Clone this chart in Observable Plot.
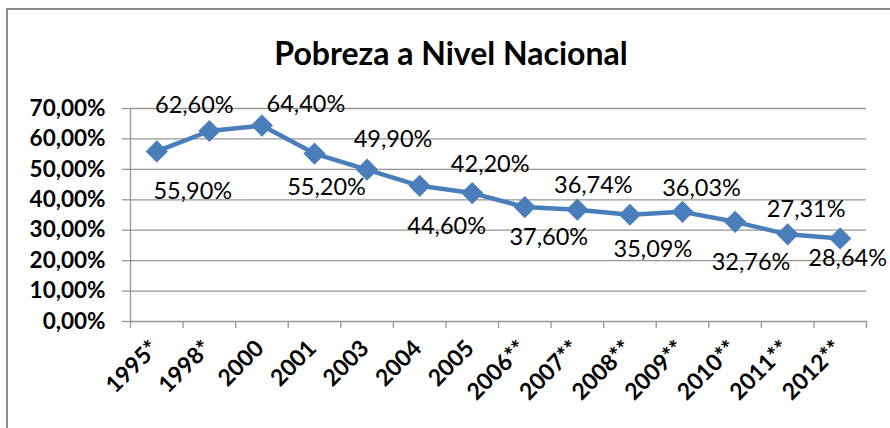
<!DOCTYPE html>
<html><head><meta charset="utf-8">
<script src="https://cdn.jsdelivr.net/npm/d3@7"></script>
<script src="https://cdn.jsdelivr.net/npm/@observablehq/plot@0.6"></script>
<style>
body{margin:0;background:#fff;}
#wrap{position:relative;width:890px;height:428px;overflow:hidden;}
#frame{position:absolute;left:6px;top:8px;width:900px;height:440px;border-top:2px solid #8c8c8c;border-left:2px solid #8c8c8c;}
#chart{position:absolute;left:0;top:0;}
</style></head><body>
<div id="wrap"><div id="frame"></div><div id="chart"></div></div>
<script>
const title = "Pobreza a Nivel Nacional";
const categories = ["1995*","1998*","2000","2001","2003","2004","2005","2006**","2007**","2008**","2009**","2010**","2011**","2012**"];
const values = [55.90, 62.60, 64.40, 55.20, 49.90, 44.60, 42.20, 37.60, 36.74, 35.09, 36.03, 32.76, 28.64, 27.31];
const yTicks = [0, 10, 20, 30, 40, 50, 60, 70];
// manual label nudges (dx, dy in px) as in the original
const labelNudge = [[36,40],[-15,-26],[44,-21],[12,34],[26,-30],[27,41],[18,-29],[24,30],[16,-24],[23,35],[19,-23],[16,41],[60,24],[-34,-29]];

const fmt = v => v.toFixed(2).replace(".", ",") + "%";
const blue = "#4a7ebb";
const gray = "#969696";
const font = "Lato";
const xi = (d, i) => i + 0.5;

const labelMarks = values.map((v, i) => Plot.text([v], {
  x: () => i + 0.5, y: d => d, text: d => fmt(d),
  dx: labelNudge[i][0], dy: labelNudge[i][1],
  lineAnchor: "middle", textAnchor: "middle",
  fontSize: 23.5, fill: "#000"
}));

const chart = Plot.plot({
  width: 890, height: 428,
  marginLeft: 130, marginRight: 24, marginTop: 108, marginBottom: 107,
  x: {domain: [0, categories.length], axis: null},
  y: {domain: [0, 70], axis: null},
  style: {fontFamily: font, background: "transparent", overflow: "visible"},
  marks: [
    Plot.gridY(yTicks, {stroke: gray, strokeOpacity: 1, strokeWidth: 1.3}),
    Plot.ruleX([0], {stroke: gray, strokeWidth: 1.3}),
    Plot.axisY(yTicks, {tickSize: 8, tickPadding: 17, tickFormat: fmt, fontSize: 22.5, fontWeight: "bold", stroke: gray, fill: "#000", strokeWidth: 1.3}),
    Plot.axisX(d3.range(categories.length + 1), {tickSize: 7, tickFormat: () => "", stroke: gray, strokeWidth: 1.3}),
    Plot.text(categories, {x: xi, y: () => 0, text: d => d, rotate: -45, textAnchor: "end", lineAnchor: "middle", dx: -2, dy: 23, fontSize: 23, fontWeight: "bold", fill: "#000"}),
    Plot.line(values, {x: xi, y: d => d, stroke: blue, strokeWidth: 4.5}),
    Plot.dot(values, {x: xi, y: d => d, symbol: "diamond2", r: 10, fill: blue, stroke: null}),
    ...labelMarks
  ]
});
document.getElementById("chart").appendChild(chart);
d3.select(chart).append("text")
  .attr("x", 451).attr("y", 65)
  .attr("text-anchor", "middle")
  .attr("font-family", font).attr("font-weight", "bold").attr("font-size", 32)
  .attr("fill", "#000")
  .text(title);
</script>
</body></html>
